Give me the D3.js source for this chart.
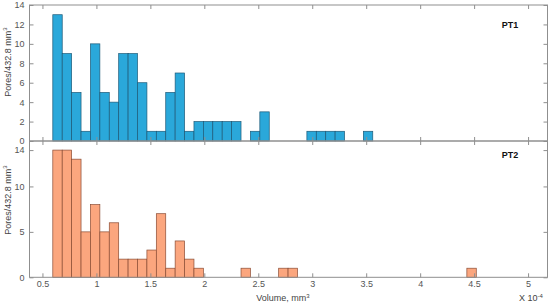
<!DOCTYPE html>
<html>
<head>
<meta charset="utf-8">
<script src="https://cdn.jsdelivr.net/npm/d3@7"></script>
<style>
  body { margin: 0; background: #fff; }
  text { font-family: "Liberation Sans", Arial, sans-serif; }
</style>
</head>
<body>
<div id="contenedor"></div>
<script>
// histogram bins (volume in 1e-4 mm3)
var binStart = 0.596
var binWidth = 0.0872

var cuentasPT1 = [13,9,5,1,10,5,4,9,9,6,1,1,5,7,1,2,2,2,2,2,0,1,3,0,0,0,0,1,1,1,1,0,0,1]
var cuentasPT2 = [14,14,13,5,8,5,6,2,2,2,3,7,1,4,2,1,0,0,0,0,1,0,0,0,1,1,0,0,0,0,0,0,0,0,0,0,0,0,0,0,0,0,0,0,1]

var ticksX = [0.5,1,1.5,2,2.5,3,3.5,4,4.5,5]
var ticksY1 = [0,2,4,6,8,10,12,14]
var ticksY2 = [0,5,10,14]

var ancho = 550, alto = 304

var svg = d3.select("#contenedor").append("svg")
    .attr("width", ancho)
    .attr("height", alto)

var escalaX = d3.scaleLinear().domain([0.38, 5.18]).range([29.5, 547.5])

var paneles = [
  { nombre: "PT1", datos: cuentasPT1, ticks: ticksY1, dom: [0, 14], rango: [141, 5],
    relleno: "#2aa8da", borde: "#1d5a78", labelY: 62 },
  { nombre: "PT2", datos: cuentasPT2, ticks: ticksY2, dom: [0, 15], rango: [277.3, 141],
    relleno: "#fba67e", borde: "#8a4c34", labelY: 200 }
]

var gris = "#8f8f8f"
var tickLen = 4
var fmt = function(d) { return String(d) }

paneles.forEach(function(p) {
  var escalaY = d3.scaleLinear().domain(p.dom).range(p.rango)
  var g = svg.append("g")

  var barras = p.datos.map(function(c, i) {
    return { x0: binStart + i * binWidth, x1: binStart + (i + 1) * binWidth, n: c }
  }).filter(function(d) { return d.n > 0 })

  g.selectAll("rect")
    .data(barras)
    .enter()
    .append("rect")
    .attr("x", function(d) { return escalaX(d.x0) })
    .attr("width", function(d) { return escalaX(d.x1) - escalaX(d.x0) })
    .attr("y", function(d) { return escalaY(d.n) })
    .attr("height", function(d) { return escalaY(0) - escalaY(d.n) })
    .attr("fill", p.relleno)
    .attr("stroke", p.borde)
    .attr("stroke-width", 0.7)

  var x0 = escalaX.range()[0], x1 = escalaX.range()[1]
  var yTop = p.rango[1], yBot = p.rango[0]

  // box
  g.append("rect")
    .attr("x", x0).attr("y", yTop)
    .attr("width", x1 - x0).attr("height", yBot - yTop)
    .attr("fill", "none").attr("stroke", gris).attr("stroke-width", 1)

  // y axes, inward ticks
  var ejeY = d3.axisLeft(escalaY).tickValues(p.ticks).tickSize(-tickLen).tickPadding(5).tickFormat(fmt)
  var gy = g.append("g").attr("transform", "translate(" + x0 + ",0)").call(ejeY)
  var ejeYd = d3.axisRight(escalaY).tickValues(p.ticks).tickSize(-tickLen).tickFormat("")
  var gyd = g.append("g").attr("transform", "translate(" + x1 + ",0)").call(ejeYd)

  // x axes, inward ticks
  var ejeXb = d3.axisBottom(escalaX).tickValues(ticksX).tickSize(-tickLen).tickPadding(3).tickFormat(fmt)
  if (p.nombre === "PT1") ejeXb.tickFormat("")
  var gxb = g.append("g").attr("transform", "translate(0," + yBot + ")").call(ejeXb)
  var ejeXt = d3.axisTop(escalaX).tickValues(ticksX).tickSize(-tickLen).tickFormat("")
  var gxt = g.append("g").attr("transform", "translate(0," + yTop + ")").call(ejeXt)

  ;[gy, gyd, gxb, gxt].forEach(function(a) {
    a.select(".domain").remove()
    a.selectAll(".tick line").attr("stroke", gris)
    a.selectAll(".tick text").attr("fill", "#555").style("font-size", "9px")
  })

  g.append("text")
    .attr("x", 510).attr("y", p.nombre === "PT1" ? 28 : 158)
    .attr("text-anchor", "middle")
    .style("font-size", "9px").style("font-weight", "bold")
    .attr("fill", "#111")
    .text(p.nombre)

  var ly = g.append("text")
    .attr("transform", "translate(11," + p.labelY + ") rotate(-90)")
    .attr("text-anchor", "middle")
    .style("font-size", "9px")
    .attr("fill", "#444")
  ly.append("tspan").text("Pores/432.8 mm")
  ly.append("tspan").attr("dy", -4).style("font-size", "6px").text("3")
})

var lx = svg.append("text")
  .attr("x", 283).attr("y", 301)
  .attr("text-anchor", "middle")
  .style("font-size", "9px")
  .attr("fill", "#444")
lx.append("tspan").text("Volume, mm")
lx.append("tspan").attr("dy", -3).style("font-size", "6px").text("3")

var lz = svg.append("text")
  .attr("x", 519).attr("y", 301)
  .style("font-size", "9px")
  .attr("fill", "#444")
lz.append("tspan").text("X 10")
lz.append("tspan").attr("dy", -3).style("font-size", "6px").text("-4")
</script>
</body>
</html>
